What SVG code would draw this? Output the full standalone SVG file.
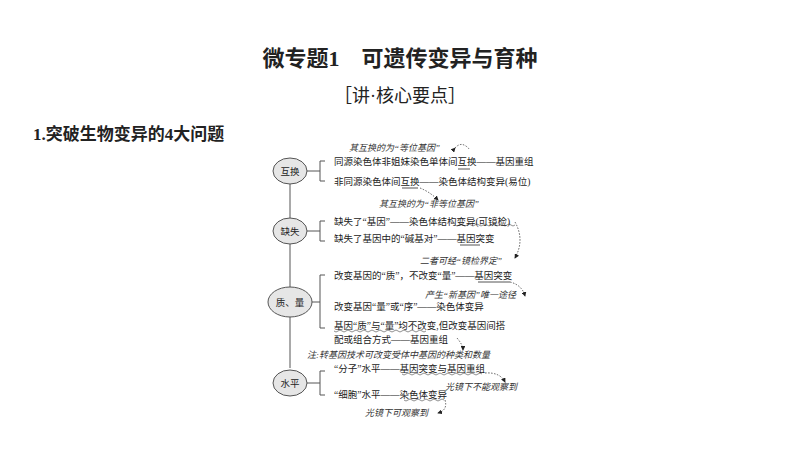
<svg xmlns="http://www.w3.org/2000/svg" width="800" height="450" viewBox="0 0 800 450">
<style>
.s{font-family:"Liberation Serif","Noto Sans CJK SC",serif;fill:#222}
.t{font-size:9.5px}
.h{font-size:9px;font-style:italic;fill:#333}
.n{fill:#e6e6e6;stroke:#555;stroke-width:1}
.l{fill:none;stroke:#555;stroke-width:1}
.d{fill:none;stroke:#333;stroke-width:0.8;stroke-dasharray:1.5 1.5}
.w{fill:none;stroke:#444;stroke-width:0.6}
</style>
<defs><marker id="a" markerWidth="6" markerHeight="6" refX="5" refY="3" orient="auto"><path d="M0,0L6,3L0,6z" fill="#222"/></marker></defs>
<rect width="800" height="450" fill="#fff"/>
<text class="s" x="400" y="66" font-size="22" font-weight="bold" text-anchor="middle">微专题1　可遗传变异与育种</text>
<text class="s" x="400" y="102" font-size="18" text-anchor="middle">［讲·核心要点］</text>
<text class="s" x="33" y="140" font-size="17" font-weight="bold">1.突破生物变异的4大问题</text>
<g id="connectors">
<path class="l" d="M290,184V368"/>
<path class="l" d="M307,171H320M325,161H320V181H325"/>
<path class="l" d="M307,231H320M325,221H320V241H325"/>
<path class="l" d="M312,302H320M325,275H320V328H325"/>
<path class="l" d="M307,383H320M325,371H320V395H325"/>
<path class="d" d="M455,148Q462,140 470,150" marker-start="url(#a)"/>
<path class="d" d="M420,188Q430,192 438,200" marker-end="url(#a)"/>
<path class="d" d="M515,222Q525,240 515,258" marker-end="url(#a)"/>
<path class="d" d="M510,282Q522,285 525,296" marker-end="url(#a)"/>
<path class="d" d="M457,338Q463,345 463,350" marker-end="url(#a)"/>
<path class="d" d="M485,373Q500,372 505,382" marker-end="url(#a)"/>
<path class="d" d="M445,400Q448,410 438,413" marker-end="url(#a)"/>
<path class="w" d="M455,225q2,2 4,0t4,0t4,0t4,0t4,0t4,0t4,0t4,0t4,0t4,0t4,0t4,0t4,0t4,0t4,0"/>
<path class="w" d="M334,331q2,2 4,0t4,0t4,0t4,0t4,0t4,0t4,0t4,0t4,0t4,0t4,0t4,0t4,0t4,0t4,0t4,0t4,0t4,0t4,0t4,0t4,0t4,0t4,0"/>
<path class="w" d="M402,374q2,2 4,0t4,0t4,0t4,0t4,0t4,0t4,0t4,0t4,0t4,0t4,0t4,0t4,0t4,0t4,0t4,0t4,0t4,0t4,0t4,0"/>
<path class="w" d="M404,400q2,2 4,0t4,0t4,0t4,0t4,0t4,0t4,0t4,0t4,0t4,0"/>
<path class="l" stroke-width="0.6" d="M458,169H470M402,188H418M460,245H480M478,282H510"/>
</g>
<g id="n1"><ellipse class="n" cx="290" cy="171" rx="17" ry="13"/><text class="s t" x="290" y="175" text-anchor="middle">互换</text></g>
<g id="n2"><ellipse class="n" cx="290" cy="231" rx="17" ry="13"/><text class="s t" x="290" y="235" text-anchor="middle">缺失</text></g>
<g id="n3"><ellipse class="n" cx="290" cy="302" rx="22" ry="15"/><text class="s t" x="290" y="306" text-anchor="middle">质、量</text></g>
<g id="n4"><ellipse class="n" cx="290" cy="383" rx="17" ry="13"/><text class="s t" x="290" y="387" text-anchor="middle">水平</text></g>
<g id="texts">
<text class="s h" x="349" y="151">其互换的为“等位基因”</text>
<text class="s t" x="334" y="165">同源染色体非姐妹染色单体间互换——基因重组</text>
<text class="s t" x="334" y="185">非同源染色体间互换——染色体结构变异(易位)</text>
<text class="s h" x="379" y="207">其互换的为“非等位基因”</text>
<text class="s t" x="334" y="225">缺失了“基因”——染色体结构变异(可镜检)</text>
<text class="s t" x="334" y="242">缺失了基因中的“碱基对”——基因突变</text>
<text class="s h" x="420" y="264">二者可经“镜检界定”</text>
<text class="s t" x="334" y="279">改变基因的“质”，不改变“量”——基因突变</text>
<text class="s h" x="425" y="298">产生“新基因”唯一途径</text>
<text class="s t" x="334" y="310">改变基因“量”或“序”——染色体变异</text>
<text class="s t" x="334" y="329">基因“质”与“量”均不改变,但改变基因间搭</text>
<text class="s t" x="334" y="343">配或组合方式——基因重组</text>
<text class="s h" x="307" y="358">注:转基因技术可改变受体中基因的种类和数量</text>
<text class="s t" x="334" y="372">“分子”水平——基因突变与基因重组</text>
<text class="s h" x="445" y="390">光镜下不能观察到</text>
<text class="s t" x="334" y="398">“细胞”水平——染色体变异</text>
<text class="s h" x="365" y="416">光镜下可观察到</text>
</g>
</svg>
